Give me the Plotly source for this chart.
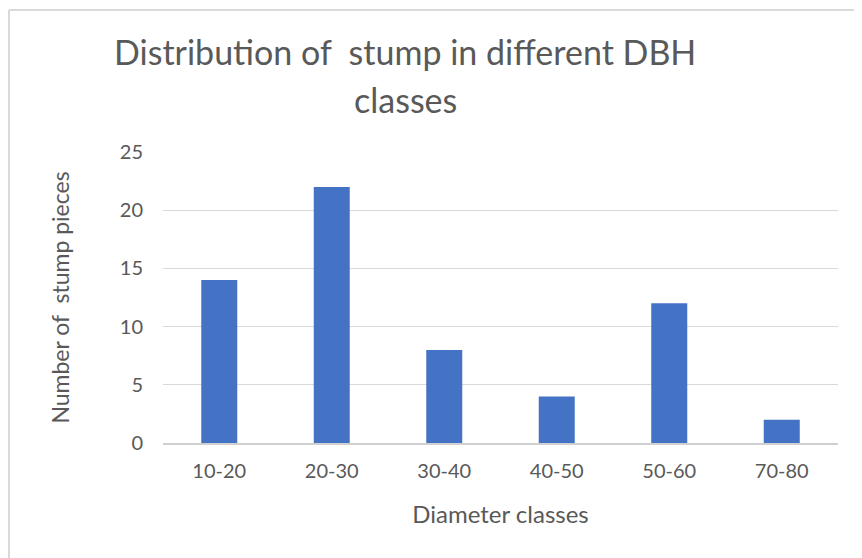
import plotly.graph_objects as go

# datos
clases = ["10-20", "20-30", "30-40", "40-50", "50-60", "70-80"]
tocones = [14, 22, 8, 4, 12, 2]
marcas_y = [0, 5, 10, 15, 20, 25]

titulo_1 = "Distribution of &nbsp;stump in different DBH"
titulo_2 = "classes"

gris_texto = "#595959"
fuente = "Lato, 'Open Sans', sans-serif"

# la página desplaza la figura 8 px, así que se dibuja un poco más pequeña
ancho, alto = 854, 550
m_izq, m_der, m_sup, m_inf = 155, 24, 144, 115
ancho_plot = ancho - m_izq - m_der
alto_plot = alto - m_sup - m_inf

fig = go.Figure()

fig.add_trace(go.Bar(
    x=clases,
    y=tocones,
    marker_color="#4472C4",
    marker_line_width=0,
    hovertemplate="%{x}: %{y}<extra></extra>"
))

fig.update_layout(
    width=ancho,
    height=alto,
    paper_bgcolor="white",
    plot_bgcolor="white",
    showlegend=False,
    bargap=0.68,
    margin=dict(l=m_izq, r=m_der, t=m_sup, b=m_inf),
    font=dict(family=fuente, color=gris_texto, size=20),
)

# título en dos líneas, como en el original
for texto, y_px in [(titulo_1, 44), (titulo_2, 91)]:
    fig.add_annotation(
        text=texto,
        xref="paper", yref="paper",
        x=(397 - m_izq) / ancho_plot,
        y=1 + (m_sup - y_px) / alto_plot,
        xanchor="center", yanchor="middle",
        showarrow=False,
        font=dict(size=34, color=gris_texto, family=fuente)
    )

fig.update_xaxes(
    showgrid=False,
    showline=True,
    linecolor="#D0D0D0",
    linewidth=1.5,
    ticks="",
    ticklabelstandoff=9,
    title=dict(text="Diameter classes", font=dict(size=24), standoff=25)
)

fig.update_yaxes(
    range=[0, 25],
    tickvals=marcas_y,
    showgrid=True,
    gridcolor="#D9D9D9",
    gridwidth=1,
    zeroline=False,
    showline=False,
    ticks="",
    ticklabelstandoff=19,
    title=dict(text="Number of &nbsp;stump pieces", font=dict(size=23), standoff=43)
)

# marco del área del gráfico (solo se ven los bordes izquierdo y superior)
x_borde = -(m_izq - 1) / ancho_plot
y_borde = 1 + (m_sup - 2) / alto_plot
fig.add_shape(type="line", xref="paper", yref="paper",
              x0=x_borde, x1=x_borde, y0=-m_inf / alto_plot, y1=y_borde,
              line=dict(color="#D9D9D9", width=2))
fig.add_shape(type="line", xref="paper", yref="paper",
              x0=x_borde, x1=1 + m_der / ancho_plot, y0=y_borde, y1=y_borde,
              line=dict(color="#D9D9D9", width=2))

fig.write_html("out.html")
